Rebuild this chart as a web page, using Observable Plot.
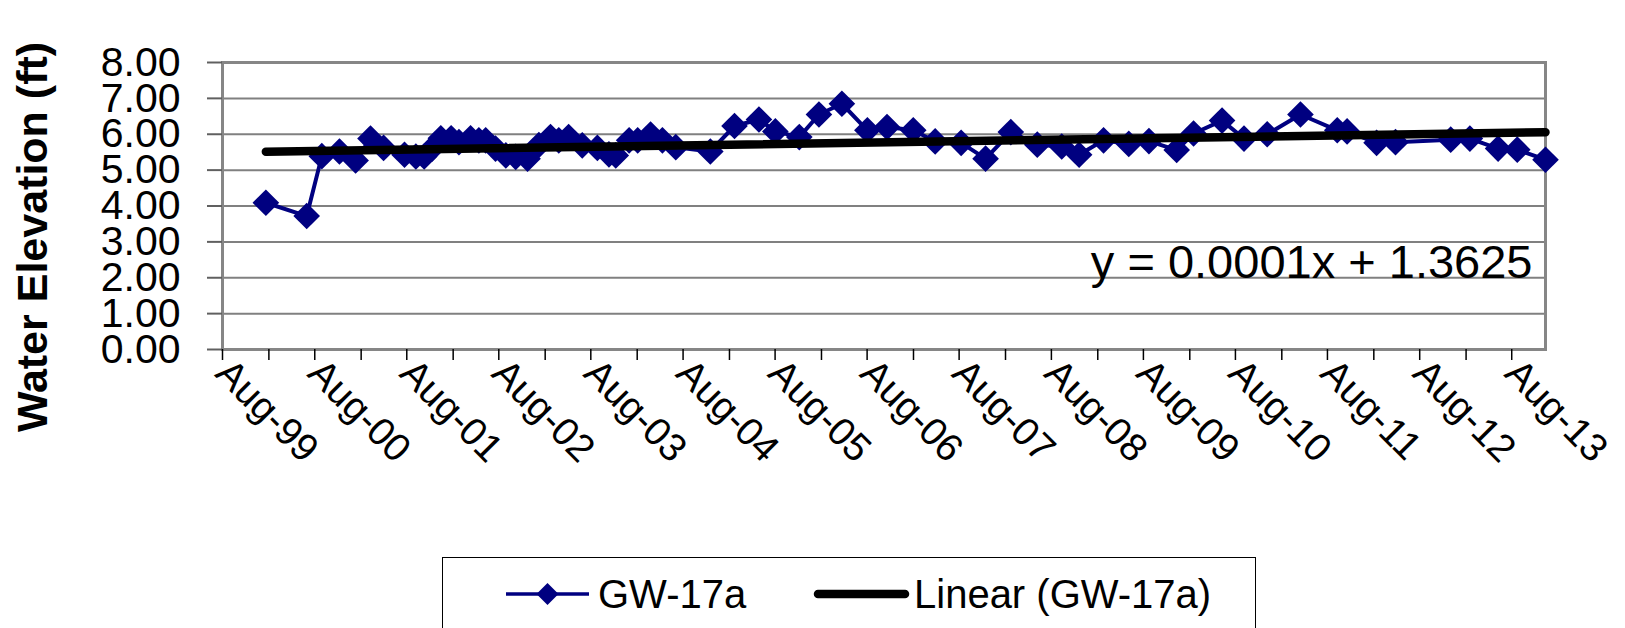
<!DOCTYPE html>
<html>
<head>
<meta charset="utf-8">
<script src="https://cdn.jsdelivr.net/npm/d3@7"></script>
<script src="https://cdn.jsdelivr.net/npm/@observablehq/plot@0.6"></script>
<style>
  html, body { margin: 0; padding: 0; background: #fff; width: 1625px; height: 628px; overflow: hidden; }
  body { position: relative; font-family: "Liberation Sans", Arial, sans-serif; }
  #chart { position: absolute; left: 0; top: 0; }
  #legend { position: absolute; left: 442px; top: 557px; width: 814px; height: 120px;
            border: 1.5px solid #000; box-sizing: border-box; background: #fff; }
  #legend svg { position: absolute; left: 0; top: 0; }
</style>
</head>
<body>
<div id="chart"></div>
<div id="legend"></div>
<script>
// ---- data ----
const dates = [
  "2000-01-20","2000-06-30","2000-08-29","2000-11-07","2001-01-10","2001-03-10","2001-05-01",
  "2001-07-23","2001-09-06","2001-10-09","2001-11-09","2001-12-14","2002-01-24","2002-02-24",
  "2002-04-11","2002-05-14","2002-06-10","2002-07-19","2002-08-29","2002-10-07","2002-11-23",
  "2003-01-07","2003-02-22","2003-03-27","2003-05-05","2003-06-28","2003-08-27","2003-10-12",
  "2003-11-08","2003-12-31","2004-02-03","2004-03-25","2004-05-11","2004-07-03","2004-11-17",
  "2005-02-21","2005-05-29","2005-08-02","2005-11-05","2006-01-22","2006-04-23","2006-08-02",
  "2006-10-19","2007-01-31","2007-04-28","2007-08-09","2007-11-14","2008-02-22","2008-06-06",
  "2008-09-11","2008-11-19","2009-02-24","2009-06-04","2009-08-23","2009-12-11","2010-02-16",
  "2010-06-09","2010-09-04","2010-12-05","2011-04-16","2011-09-09","2011-10-18","2012-02-12",
  "2012-04-27","2012-12-02","2013-02-16","2013-06-08","2013-08-23","2013-12-13"
];
const values = [
  4.09, 3.72, 5.39, 5.52, 5.27, 5.88, 5.62,
  5.43, 5.38, 5.38, 5.60, 5.89, 5.89, 5.78,
  5.89, 5.83, 5.83, 5.60, 5.41, 5.37, 5.32,
  5.70, 5.92, 5.83, 5.92, 5.69, 5.62, 5.44,
  5.41, 5.83, 5.83, 5.99, 5.83, 5.64, 5.52,
  6.23, 6.41, 6.08, 5.92, 6.55, 6.85, 6.11,
  6.20, 6.11, 5.80, 5.76, 5.32, 6.06, 5.71,
  5.66, 5.43, 5.83, 5.73, 5.81, 5.56, 6.02,
  6.38, 5.88, 6.00, 6.55, 6.11, 6.08, 5.76,
  5.78, 5.85, 5.88, 5.60, 5.57, 5.29
];
const xTickLabels = ["Aug-99","Aug-00","Aug-01","Aug-02","Aug-03","Aug-04","Aug-05","Aug-06",
                     "Aug-07","Aug-08","Aug-09","Aug-10","Aug-11","Aug-12","Aug-13"];
const yTicks = [0, 1, 2, 3, 4, 5, 6, 7, 8];
const seriesName = "GW-17a";
const trendName = "Linear (GW-17a)";
const equation = "y = 0.0001x + 1.3625";
const yTitle = "Water Elevation (ft)";

// ---- build ----
const NAVY = "#000080";
const parseDate = d3.utcParse("%Y-%m-%d");
const parseLabel = d3.utcParse("%b-%y");
const data = dates.map((d, i) => ({date: parseDate(d), value: values[i]}));
const labelDates = xTickLabels.map(parseLabel);
const minorDates = labelDates.slice(0, -1).map(d => d3.utcMonth.offset(d, 6));
const xDomain = [labelDates[0], data[data.length - 1].date];
const font = "Liberation Sans, Arial, sans-serif";

const chart = Plot.plot({
  width: 1625,
  height: 557,
  marginLeft: 222,
  marginRight: 80,
  marginTop: 62,
  marginBottom: 208,
  style: {fontFamily: font, background: "white", color: "black", overflow: "visible"},
  x: {type: "utc", domain: xDomain},
  y: {domain: [0, 8]},
  marks: [
    Plot.gridY(yTicks, {stroke: "#808080", strokeOpacity: 1, strokeWidth: 2}),
    Plot.frame({stroke: "#868686", strokeWidth: 3}),
    Plot.axisY(yTicks, {tickSize: 15, tickPadding: 27, tickFormat: d3.format(".2f"),
      fontSize: 41, stroke: "#606060", strokeWidth: 2, label: null}),
    Plot.axisX(minorDates, {tickSize: 11, tickFormat: () => "", strokeWidth: 1.5, label: null}),
    Plot.axisX(labelDates, {tickSize: 11, tickPadding: 6, tickRotate: 45,
      tickFormat: (d, i) => xTickLabels[i], fontSize: 39, strokeWidth: 1.5, label: null}),
    Plot.line(data, {x: "date", y: "value", stroke: NAVY, strokeWidth: 4}),
    Plot.dot(data, {x: "date", y: "value", symbol: "diamond2", r: 12, fill: NAVY, stroke: "none"}),
    Plot.linearRegressionY(data, {x: "date", y: "value", ci: 0, stroke: "black",
      strokeWidth: 8.5, strokeLinecap: "round"}),
    Plot.text([equation], {frameAnchor: "bottom-right", lineAnchor: "bottom", dx: -13, dy: -72,
      fontSize: 47, fill: "black"}),
    Plot.text([yTitle], {frameAnchor: "left", textAnchor: "middle", lineAnchor: "middle",
      rotate: -90, dx: -189, dy: 31, fontSize: 43, fontWeight: "bold", fill: "black"})
  ]
});
document.getElementById("chart").appendChild(chart);

// ---- legend ----
const ns = "http://www.w3.org/2000/svg";
const lg = document.createElementNS(ns, "svg");
lg.setAttribute("width", 814); lg.setAttribute("height", 120);
lg.innerHTML = `
  <line x1="63" x2="146" y1="36" y2="36" stroke="${NAVY}" stroke-width="3.5"/>
  <path d="M104.5,25 L115.5,36 L104.5,47 L93.5,36 Z" fill="${NAVY}"/>
  <text x="155" y="50" font-size="40" font-family="${font}">${seriesName}</text>
  <line x1="375" x2="462" y1="36" y2="36" stroke="#000" stroke-width="8.5" stroke-linecap="round"/>
  <text x="471" y="50" font-size="40" font-family="${font}">${trendName}</text>`;
document.getElementById("legend").appendChild(lg);
</script>
</body>
</html>
